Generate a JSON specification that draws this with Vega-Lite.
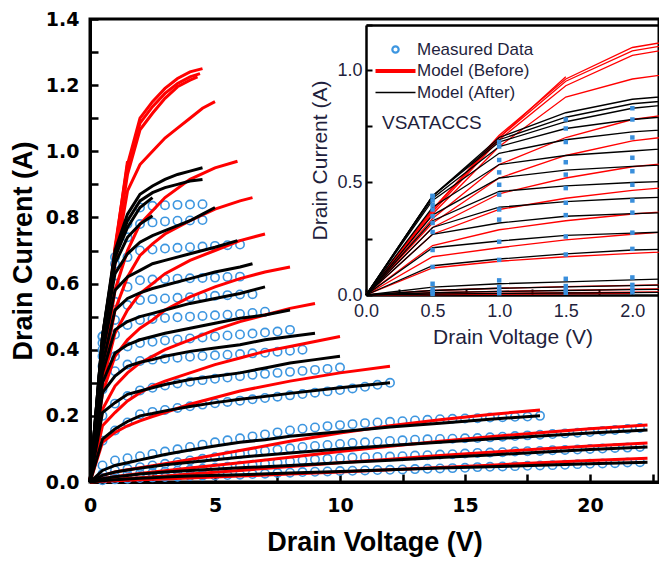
{
"$schema":"https://vega.github.io/schema/vega-lite/v6.json",
"width":569,"height":463,
"autosize":{"type":"none"},
"padding":{"left":90,"top":19,"right":0,"bottom":80},
"background":"white",
"title":{"text":"VSATACCS","anchor":"start","frame":"group","orient":"top","offset":0,"dx":292,"dy":123,"baseline":"top","font":"Liberation Sans","fontSize":19,"fontWeight":"normal","color":"#1f1f3d"},
"config":{"view":{"stroke":"black","strokeWidth":3},"font":"Liberation Sans"},
"datasets":{
"lines":[
{"s":"B","c":1,"v":0,"i":0},{"s":"B","c":1,"v":0.5,"i":0.38},{"s":"B","c":1,"v":1,"i":0.71},{"s":"B","c":1,"v":1.5,"i":0.96},{"s":"B","c":1,"v":2,"i":1.1},{"s":"B","c":1,"v":2.5,"i":1.15},{"s":"B","c":1,"v":3,"i":1.19},{"s":"B","c":1,"v":3.5,"i":1.22},{"s":"B","c":1,"v":4,"i":1.24},{"s":"B","c":1,"v":4.5,"i":1.25},
{"s":"B","c":2,"v":0,"i":0},{"s":"B","c":2,"v":0.5,"i":0.38},{"s":"B","c":2,"v":1,"i":0.7},{"s":"B","c":2,"v":1.5,"i":0.95},{"s":"B","c":2,"v":2,"i":1.085},{"s":"B","c":2,"v":2.5,"i":1.135},{"s":"B","c":2,"v":3,"i":1.175},{"s":"B","c":2,"v":3.5,"i":1.205},{"s":"B","c":2,"v":4,"i":1.225},{"s":"B","c":2,"v":4.4,"i":1.235},
{"s":"B","c":3,"v":0,"i":0},{"s":"B","c":3,"v":0.5,"i":0.37},{"s":"B","c":3,"v":1,"i":0.69},{"s":"B","c":3,"v":1.5,"i":0.93},{"s":"B","c":3,"v":2,"i":1.065},{"s":"B","c":3,"v":2.5,"i":1.115},{"s":"B","c":3,"v":3,"i":1.16},{"s":"B","c":3,"v":3.5,"i":1.195},{"s":"B","c":3,"v":4,"i":1.215},{"s":"B","c":3,"v":4.3,"i":1.225},
{"s":"B","c":4,"v":0,"i":0},{"s":"B","c":4,"v":0.5,"i":0.38},{"s":"B","c":4,"v":1,"i":0.7},{"s":"B","c":4,"v":1.5,"i":0.97},
{"s":"B","c":5,"v":0,"i":0},{"s":"B","c":5,"v":0.5,"i":0.36},{"s":"B","c":5,"v":1,"i":0.66},{"s":"B","c":5,"v":1.5,"i":0.88},{"s":"B","c":5,"v":2,"i":0.96},{"s":"B","c":5,"v":2.5,"i":1.0},{"s":"B","c":5,"v":3,"i":1.04},{"s":"B","c":5,"v":3.5,"i":1.07},{"s":"B","c":5,"v":4,"i":1.1},{"s":"B","c":5,"v":4.5,"i":1.13},{"s":"B","c":5,"v":5,"i":1.15},
{"s":"B","c":6,"v":0,"i":0},{"s":"B","c":6,"v":0.5,"i":0.34},{"s":"B","c":6,"v":1,"i":0.58},{"s":"B","c":6,"v":1.5,"i":0.7},{"s":"B","c":6,"v":2,"i":0.78},{"s":"B","c":6,"v":2.5,"i":0.82},{"s":"B","c":6,"v":3,"i":0.86},{"s":"B","c":6,"v":4,"i":0.915},{"s":"B","c":6,"v":5,"i":0.95},{"s":"B","c":6,"v":5.9,"i":0.97},
{"s":"B","c":7,"v":0,"i":0},{"s":"B","c":7,"v":0.5,"i":0.32},{"s":"B","c":7,"v":1,"i":0.52},{"s":"B","c":7,"v":1.5,"i":0.62},{"s":"B","c":7,"v":2,"i":0.685},{"s":"B","c":7,"v":2.5,"i":0.72},{"s":"B","c":7,"v":3,"i":0.75},{"s":"B","c":7,"v":4,"i":0.79},{"s":"B","c":7,"v":5,"i":0.825},{"s":"B","c":7,"v":6,"i":0.85},{"s":"B","c":7,"v":6.5,"i":0.86},
{"s":"B","c":8,"v":0,"i":0},{"s":"B","c":8,"v":0.5,"i":0.3},{"s":"B","c":8,"v":1,"i":0.45},{"s":"B","c":8,"v":1.5,"i":0.52},{"s":"B","c":8,"v":2,"i":0.57},{"s":"B","c":8,"v":2.5,"i":0.6},{"s":"B","c":8,"v":3,"i":0.63},{"s":"B","c":8,"v":4,"i":0.67},{"s":"B","c":8,"v":5,"i":0.7},{"s":"B","c":8,"v":6,"i":0.73},{"s":"B","c":8,"v":7,"i":0.75},
{"s":"B","c":9,"v":0,"i":0},{"s":"B","c":9,"v":0.5,"i":0.27},{"s":"B","c":9,"v":1,"i":0.38},{"s":"B","c":9,"v":1.5,"i":0.43},{"s":"B","c":9,"v":2,"i":0.465},{"s":"B","c":9,"v":2.5,"i":0.49},{"s":"B","c":9,"v":3,"i":0.52},{"s":"B","c":9,"v":4,"i":0.56},{"s":"B","c":9,"v":5,"i":0.59},{"s":"B","c":9,"v":6,"i":0.615},{"s":"B","c":9,"v":7,"i":0.635},{"s":"B","c":9,"v":8,"i":0.65},
{"s":"B","c":10,"v":0,"i":0},{"s":"B","c":10,"v":0.5,"i":0.22},{"s":"B","c":10,"v":1,"i":0.29},{"s":"B","c":10,"v":1.5,"i":0.33},{"s":"B","c":10,"v":2,"i":0.36},{"s":"B","c":10,"v":2.5,"i":0.38},{"s":"B","c":10,"v":3,"i":0.4},{"s":"B","c":10,"v":4,"i":0.43},{"s":"B","c":10,"v":5,"i":0.46},{"s":"B","c":10,"v":6,"i":0.485},{"s":"B","c":10,"v":7,"i":0.505},{"s":"B","c":10,"v":8,"i":0.525},{"s":"B","c":10,"v":9,"i":0.54},
{"s":"B","c":11,"v":0,"i":0},{"s":"B","c":11,"v":0.5,"i":0.17},{"s":"B","c":11,"v":1,"i":0.21},{"s":"B","c":11,"v":1.5,"i":0.245},{"s":"B","c":11,"v":2,"i":0.27},{"s":"B","c":11,"v":2.5,"i":0.29},{"s":"B","c":11,"v":3,"i":0.305},{"s":"B","c":11,"v":4,"i":0.33},{"s":"B","c":11,"v":5,"i":0.355},{"s":"B","c":11,"v":6,"i":0.375},{"s":"B","c":11,"v":7,"i":0.395},{"s":"B","c":11,"v":8,"i":0.41},{"s":"B","c":11,"v":9,"i":0.425},{"s":"B","c":11,"v":10,"i":0.44},
{"s":"B","c":12,"v":0,"i":0},{"s":"B","c":12,"v":0.5,"i":0.12},{"s":"B","c":12,"v":1,"i":0.15},{"s":"B","c":12,"v":1.5,"i":0.17},{"s":"B","c":12,"v":2,"i":0.185},{"s":"B","c":12,"v":2.5,"i":0.198},{"s":"B","c":12,"v":3,"i":0.21},{"s":"B","c":12,"v":4,"i":0.235},{"s":"B","c":12,"v":6,"i":0.275},{"s":"B","c":12,"v":8,"i":0.305},{"s":"B","c":12,"v":10,"i":0.33},{"s":"B","c":12,"v":12,"i":0.35},
{"s":"B","c":13,"v":0,"i":0},{"s":"B","c":13,"v":0.5,"i":0.02},{"s":"B","c":13,"v":1,"i":0.03},{"s":"B","c":13,"v":1.5,"i":0.037},{"s":"B","c":13,"v":2,"i":0.043},{"s":"B","c":13,"v":2.5,"i":0.049},{"s":"B","c":13,"v":3,"i":0.055},{"s":"B","c":13,"v":4,"i":0.068},{"s":"B","c":13,"v":6,"i":0.095},{"s":"B","c":13,"v":8,"i":0.123},{"s":"B","c":13,"v":10,"i":0.148},{"s":"B","c":13,"v":12,"i":0.17},{"s":"B","c":13,"v":14,"i":0.188},{"s":"B","c":13,"v":16,"i":0.204},{"s":"B","c":13,"v":18,"i":0.218},
{"s":"B","c":14,"v":0,"i":0},{"s":"B","c":14,"v":0.5,"i":0.01},{"s":"B","c":14,"v":1,"i":0.016},{"s":"B","c":14,"v":1.5,"i":0.021},{"s":"B","c":14,"v":2,"i":0.026},{"s":"B","c":14,"v":2.5,"i":0.03},{"s":"B","c":14,"v":3,"i":0.034},{"s":"B","c":14,"v":4,"i":0.042},{"s":"B","c":14,"v":6,"i":0.058},{"s":"B","c":14,"v":8,"i":0.075},{"s":"B","c":14,"v":10,"i":0.092},{"s":"B","c":14,"v":12,"i":0.108},{"s":"B","c":14,"v":14,"i":0.123},{"s":"B","c":14,"v":16,"i":0.137},{"s":"B","c":14,"v":18,"i":0.149},{"s":"B","c":14,"v":20,"i":0.161},{"s":"B","c":14,"v":22.3,"i":0.172},
{"s":"B","c":15,"v":0,"i":0},{"s":"B","c":15,"v":0.5,"i":0.005},{"s":"B","c":15,"v":1,"i":0.008},{"s":"B","c":15,"v":2,"i":0.013},{"s":"B","c":15,"v":3,"i":0.018},{"s":"B","c":15,"v":4,"i":0.024},{"s":"B","c":15,"v":6,"i":0.035},{"s":"B","c":15,"v":8,"i":0.047},{"s":"B","c":15,"v":10,"i":0.058},{"s":"B","c":15,"v":12,"i":0.069},{"s":"B","c":15,"v":14,"i":0.08},{"s":"B","c":15,"v":16,"i":0.09},{"s":"B","c":15,"v":18,"i":0.1},{"s":"B","c":15,"v":20,"i":0.109},{"s":"B","c":15,"v":22.3,"i":0.118},
{"s":"B","c":16,"v":0,"i":0},{"s":"B","c":16,"v":0.5,"i":0.002},{"s":"B","c":16,"v":1,"i":0.004},{"s":"B","c":16,"v":2,"i":0.007},{"s":"B","c":16,"v":4,"i":0.012},{"s":"B","c":16,"v":6,"i":0.018},{"s":"B","c":16,"v":8,"i":0.024},{"s":"B","c":16,"v":10,"i":0.03},{"s":"B","c":16,"v":12,"i":0.037},{"s":"B","c":16,"v":14,"i":0.044},{"s":"B","c":16,"v":16,"i":0.051},{"s":"B","c":16,"v":18,"i":0.058},{"s":"B","c":16,"v":20,"i":0.065},{"s":"B","c":16,"v":22.3,"i":0.072},
{"s":"A","c":1,"v":0,"i":0},{"s":"A","c":1,"v":0.5,"i":0.44},{"s":"A","c":1,"v":1,"i":0.7},{"s":"A","c":1,"v":1.5,"i":0.81},{"s":"A","c":1,"v":2,"i":0.87},{"s":"A","c":1,"v":2.5,"i":0.895},{"s":"A","c":1,"v":3,"i":0.915},{"s":"A","c":1,"v":3.5,"i":0.93},{"s":"A","c":1,"v":4,"i":0.94},{"s":"A","c":1,"v":4.5,"i":0.95},
{"s":"A","c":2,"v":0,"i":0},{"s":"A","c":2,"v":0.5,"i":0.44},{"s":"A","c":2,"v":1,"i":0.69},{"s":"A","c":2,"v":1.5,"i":0.79},{"s":"A","c":2,"v":2,"i":0.85},{"s":"A","c":2,"v":2.5,"i":0.875},{"s":"A","c":2,"v":3,"i":0.89},{"s":"A","c":2,"v":3.5,"i":0.9},{"s":"A","c":2,"v":4,"i":0.91},{"s":"A","c":2,"v":4.5,"i":0.915},
{"s":"A","c":3,"v":0,"i":0},{"s":"A","c":3,"v":0.5,"i":0.44},{"s":"A","c":3,"v":1,"i":0.68},{"s":"A","c":3,"v":1.5,"i":0.77},{"s":"A","c":3,"v":2,"i":0.83},{"s":"A","c":3,"v":2.5,"i":0.86},
{"s":"A","c":4,"v":0,"i":0},{"s":"A","c":4,"v":0.5,"i":0.43},{"s":"A","c":4,"v":1,"i":0.66},{"s":"A","c":4,"v":1.5,"i":0.74},{"s":"A","c":4,"v":2,"i":0.78},{"s":"A","c":4,"v":2.5,"i":0.805},
{"s":"A","c":5,"v":0,"i":0},{"s":"A","c":5,"v":0.5,"i":0.42},{"s":"A","c":5,"v":1,"i":0.63},{"s":"A","c":5,"v":1.5,"i":0.69},{"s":"A","c":5,"v":2,"i":0.725},{"s":"A","c":5,"v":2.5,"i":0.745},{"s":"A","c":5,"v":3,"i":0.76},{"s":"A","c":5,"v":3.5,"i":0.775},{"s":"A","c":5,"v":4,"i":0.79},{"s":"A","c":5,"v":4.5,"i":0.81},{"s":"A","c":5,"v":5,"i":0.83},
{"s":"A","c":6,"v":0,"i":0},{"s":"A","c":6,"v":0.5,"i":0.39},{"s":"A","c":6,"v":1,"i":0.58},{"s":"A","c":6,"v":1.5,"i":0.62},{"s":"A","c":6,"v":2,"i":0.64},{"s":"A","c":6,"v":2.5,"i":0.66},{"s":"A","c":6,"v":3,"i":0.67},{"s":"A","c":6,"v":4,"i":0.69},{"s":"A","c":6,"v":5,"i":0.71},{"s":"A","c":6,"v":5.9,"i":0.73},
{"s":"A","c":7,"v":0,"i":0},{"s":"A","c":7,"v":0.5,"i":0.355},{"s":"A","c":7,"v":1,"i":0.52},{"s":"A","c":7,"v":1.5,"i":0.555},{"s":"A","c":7,"v":2,"i":0.572},{"s":"A","c":7,"v":2.5,"i":0.585},{"s":"A","c":7,"v":3,"i":0.595},{"s":"A","c":7,"v":4,"i":0.615},{"s":"A","c":7,"v":5,"i":0.635},{"s":"A","c":7,"v":6,"i":0.65},{"s":"A","c":7,"v":6.5,"i":0.66},
{"s":"A","c":8,"v":0,"i":0},{"s":"A","c":8,"v":0.5,"i":0.33},{"s":"A","c":8,"v":1,"i":0.46},{"s":"A","c":8,"v":1.5,"i":0.485},{"s":"A","c":8,"v":2,"i":0.5},{"s":"A","c":8,"v":2.5,"i":0.51},{"s":"A","c":8,"v":3,"i":0.52},{"s":"A","c":8,"v":4,"i":0.54},{"s":"A","c":8,"v":5,"i":0.555},{"s":"A","c":8,"v":6,"i":0.57},{"s":"A","c":8,"v":7,"i":0.59},
{"s":"A","c":9,"v":0,"i":0},{"s":"A","c":9,"v":0.5,"i":0.3},{"s":"A","c":9,"v":1,"i":0.39},{"s":"A","c":9,"v":1.5,"i":0.415},{"s":"A","c":9,"v":2,"i":0.43},{"s":"A","c":9,"v":2.5,"i":0.44},{"s":"A","c":9,"v":3,"i":0.45},{"s":"A","c":9,"v":4,"i":0.465},{"s":"A","c":9,"v":5,"i":0.48},{"s":"A","c":9,"v":6,"i":0.495},{"s":"A","c":9,"v":7,"i":0.505},{"s":"A","c":9,"v":8,"i":0.52},
{"s":"A","c":10,"v":0,"i":0},{"s":"A","c":10,"v":0.5,"i":0.27},{"s":"A","c":10,"v":1,"i":0.32},{"s":"A","c":10,"v":1.5,"i":0.35},{"s":"A","c":10,"v":2,"i":0.362},{"s":"A","c":10,"v":2.5,"i":0.37},{"s":"A","c":10,"v":3,"i":0.38},{"s":"A","c":10,"v":4,"i":0.395},{"s":"A","c":10,"v":5,"i":0.405},{"s":"A","c":10,"v":6,"i":0.415},{"s":"A","c":10,"v":7,"i":0.43},{"s":"A","c":10,"v":8,"i":0.44},{"s":"A","c":10,"v":9,"i":0.45},
{"s":"A","c":11,"v":0,"i":0},{"s":"A","c":11,"v":0.5,"i":0.21},{"s":"A","c":11,"v":1,"i":0.24},{"s":"A","c":11,"v":1.5,"i":0.265},{"s":"A","c":11,"v":2,"i":0.275},{"s":"A","c":11,"v":2.5,"i":0.285},{"s":"A","c":11,"v":3,"i":0.295},{"s":"A","c":11,"v":4,"i":0.31},{"s":"A","c":11,"v":5,"i":0.32},{"s":"A","c":11,"v":6,"i":0.33},{"s":"A","c":11,"v":7,"i":0.345},{"s":"A","c":11,"v":8,"i":0.36},{"s":"A","c":11,"v":9,"i":0.37},{"s":"A","c":11,"v":10,"i":0.38},
{"s":"A","c":12,"v":0,"i":0},{"s":"A","c":12,"v":0.5,"i":0.13},{"s":"A","c":12,"v":1,"i":0.16},{"s":"A","c":12,"v":1.5,"i":0.183},{"s":"A","c":12,"v":2,"i":0.2},{"s":"A","c":12,"v":2.5,"i":0.207},{"s":"A","c":12,"v":3,"i":0.215},{"s":"A","c":12,"v":4,"i":0.228},{"s":"A","c":12,"v":5,"i":0.24},{"s":"A","c":12,"v":6,"i":0.25},{"s":"A","c":12,"v":8,"i":0.268},{"s":"A","c":12,"v":10,"i":0.285},{"s":"A","c":12,"v":12,"i":0.3},
{"s":"A","c":13,"v":0,"i":0},{"s":"A","c":13,"v":0.5,"i":0.035},{"s":"A","c":13,"v":1,"i":0.05},{"s":"A","c":13,"v":1.5,"i":0.058},{"s":"A","c":13,"v":2,"i":0.067},{"s":"A","c":13,"v":2.5,"i":0.075},{"s":"A","c":13,"v":3,"i":0.083},{"s":"A","c":13,"v":4,"i":0.097},{"s":"A","c":13,"v":5,"i":0.109},{"s":"A","c":13,"v":6,"i":0.12},{"s":"A","c":13,"v":7,"i":0.128},{"s":"A","c":13,"v":8,"i":0.138},{"s":"A","c":13,"v":10,"i":0.152},{"s":"A","c":13,"v":12,"i":0.166},{"s":"A","c":13,"v":14,"i":0.178},{"s":"A","c":13,"v":16,"i":0.19},{"s":"A","c":13,"v":18,"i":0.2},
{"s":"A","c":14,"v":0,"i":0},{"s":"A","c":14,"v":0.5,"i":0.02},{"s":"A","c":14,"v":1,"i":0.03},{"s":"A","c":14,"v":1.5,"i":0.036},{"s":"A","c":14,"v":2,"i":0.042},{"s":"A","c":14,"v":2.5,"i":0.047},{"s":"A","c":14,"v":3,"i":0.052},{"s":"A","c":14,"v":4,"i":0.06},{"s":"A","c":14,"v":6,"i":0.075},{"s":"A","c":14,"v":8,"i":0.088},{"s":"A","c":14,"v":10,"i":0.1},{"s":"A","c":14,"v":12,"i":0.11},{"s":"A","c":14,"v":14,"i":0.12},{"s":"A","c":14,"v":16,"i":0.13},{"s":"A","c":14,"v":18,"i":0.139},{"s":"A","c":14,"v":20,"i":0.148},{"s":"A","c":14,"v":22.3,"i":0.157},
{"s":"A","c":15,"v":0,"i":0},{"s":"A","c":15,"v":0.5,"i":0.01},{"s":"A","c":15,"v":1,"i":0.016},{"s":"A","c":15,"v":1.5,"i":0.02},{"s":"A","c":15,"v":2,"i":0.024},{"s":"A","c":15,"v":2.5,"i":0.027},{"s":"A","c":15,"v":3,"i":0.03},{"s":"A","c":15,"v":4,"i":0.035},{"s":"A","c":15,"v":6,"i":0.043},{"s":"A","c":15,"v":8,"i":0.05},{"s":"A","c":15,"v":10,"i":0.058},{"s":"A","c":15,"v":12,"i":0.066},{"s":"A","c":15,"v":14,"i":0.074},{"s":"A","c":15,"v":16,"i":0.082},{"s":"A","c":15,"v":18,"i":0.09},{"s":"A","c":15,"v":20,"i":0.098},{"s":"A","c":15,"v":22.3,"i":0.106},
{"s":"A","c":16,"v":0,"i":0},{"s":"A","c":16,"v":0.5,"i":0.004},{"s":"A","c":16,"v":1,"i":0.007},{"s":"A","c":16,"v":1.5,"i":0.009},{"s":"A","c":16,"v":2,"i":0.011},{"s":"A","c":16,"v":2.5,"i":0.013},{"s":"A","c":16,"v":3,"i":0.015},{"s":"A","c":16,"v":4,"i":0.018},{"s":"A","c":16,"v":6,"i":0.022},{"s":"A","c":16,"v":8,"i":0.027},{"s":"A","c":16,"v":10,"i":0.032},{"s":"A","c":16,"v":12,"i":0.037},{"s":"A","c":16,"v":14,"i":0.042},{"s":"A","c":16,"v":16,"i":0.046},{"s":"A","c":16,"v":18,"i":0.051},{"s":"A","c":16,"v":20,"i":0.055},{"s":"A","c":16,"v":22.3,"i":0.06}
],
"meas":[
{"s":"M","c":1,"v":0.5,"i":0.44},{"s":"M","c":1,"v":1,"i":0.68},{"s":"M","c":1,"v":1.5,"i":0.78},{"s":"M","c":1,"v":2,"i":0.83},{"s":"M","c":1,"v":2.5,"i":0.835},{"s":"M","c":1,"v":3,"i":0.837},{"s":"M","c":1,"v":3.5,"i":0.838},{"s":"M","c":1,"v":4,"i":0.839},{"s":"M","c":1,"v":4.5,"i":0.84},
{"s":"M","c":2,"v":0.5,"i":0.44},{"s":"M","c":2,"v":1,"i":0.66},{"s":"M","c":2,"v":1.5,"i":0.74},{"s":"M","c":2,"v":2,"i":0.78},{"s":"M","c":2,"v":2.5,"i":0.785},{"s":"M","c":2,"v":3,"i":0.788},{"s":"M","c":2,"v":3.5,"i":0.79},{"s":"M","c":2,"v":4,"i":0.791},{"s":"M","c":2,"v":4.5,"i":0.792},
{"s":"M","c":3,"v":0.5,"i":0.42},{"s":"M","c":3,"v":1,"i":0.6},{"s":"M","c":3,"v":1.5,"i":0.68},{"s":"M","c":3,"v":2,"i":0.7},{"s":"M","c":3,"v":2.5,"i":0.703},{"s":"M","c":3,"v":3,"i":0.706},{"s":"M","c":3,"v":3.5,"i":0.708},{"s":"M","c":3,"v":4,"i":0.71},{"s":"M","c":3,"v":4.5,"i":0.712},{"s":"M","c":3,"v":5,"i":0.714},{"s":"M","c":3,"v":5.5,"i":0.716},{"s":"M","c":3,"v":6,"i":0.718},
{"s":"M","c":4,"v":0.5,"i":0.4},{"s":"M","c":4,"v":1,"i":0.545},{"s":"M","c":4,"v":1.5,"i":0.59},{"s":"M","c":4,"v":2,"i":0.61},{"s":"M","c":4,"v":2.5,"i":0.612},{"s":"M","c":4,"v":3,"i":0.614},{"s":"M","c":4,"v":3.5,"i":0.615},{"s":"M","c":4,"v":4,"i":0.616},{"s":"M","c":4,"v":4.5,"i":0.617},{"s":"M","c":4,"v":5,"i":0.618},{"s":"M","c":4,"v":5.5,"i":0.62},{"s":"M","c":4,"v":6,"i":0.621},
{"s":"M","c":5,"v":0.5,"i":0.38},{"s":"M","c":5,"v":1,"i":0.49},{"s":"M","c":5,"v":1.5,"i":0.535},{"s":"M","c":5,"v":2,"i":0.55},{"s":"M","c":5,"v":2.5,"i":0.553},{"s":"M","c":5,"v":3,"i":0.555},{"s":"M","c":5,"v":3.5,"i":0.557},{"s":"M","c":5,"v":4,"i":0.559},{"s":"M","c":5,"v":4.5,"i":0.561},{"s":"M","c":5,"v":5,"i":0.563},{"s":"M","c":5,"v":5.5,"i":0.565},{"s":"M","c":5,"v":6,"i":0.567},{"s":"M","c":5,"v":6.5,"i":0.568},
{"s":"M","c":6,"v":0.5,"i":0.35},{"s":"M","c":6,"v":1,"i":0.446},{"s":"M","c":6,"v":1.5,"i":0.475},{"s":"M","c":6,"v":2,"i":0.49},{"s":"M","c":6,"v":2.5,"i":0.493},{"s":"M","c":6,"v":3,"i":0.496},{"s":"M","c":6,"v":3.5,"i":0.498},{"s":"M","c":6,"v":4,"i":0.5},{"s":"M","c":6,"v":4.5,"i":0.502},{"s":"M","c":6,"v":5,"i":0.504},{"s":"M","c":6,"v":5.5,"i":0.506},{"s":"M","c":6,"v":6,"i":0.508},{"s":"M","c":6,"v":6.5,"i":0.511},{"s":"M","c":6,"v":7,"i":0.515},
{"s":"M","c":7,"v":0.5,"i":0.32},{"s":"M","c":7,"v":1,"i":0.38},{"s":"M","c":7,"v":1.5,"i":0.41},{"s":"M","c":7,"v":2,"i":0.42},{"s":"M","c":7,"v":2.5,"i":0.424},{"s":"M","c":7,"v":3,"i":0.428},{"s":"M","c":7,"v":3.5,"i":0.431},{"s":"M","c":7,"v":4,"i":0.434},{"s":"M","c":7,"v":4.5,"i":0.437},{"s":"M","c":7,"v":5,"i":0.44},{"s":"M","c":7,"v":5.5,"i":0.443},{"s":"M","c":7,"v":6,"i":0.446},{"s":"M","c":7,"v":6.5,"i":0.449},{"s":"M","c":7,"v":7,"i":0.452},{"s":"M","c":7,"v":7.5,"i":0.455},{"s":"M","c":7,"v":8,"i":0.46},
{"s":"M","c":8,"v":0.5,"i":0.28},{"s":"M","c":8,"v":1,"i":0.335},{"s":"M","c":8,"v":1.5,"i":0.355},{"s":"M","c":8,"v":2,"i":0.366},{"s":"M","c":8,"v":2.5,"i":0.37},{"s":"M","c":8,"v":3,"i":0.373},{"s":"M","c":8,"v":3.5,"i":0.376},{"s":"M","c":8,"v":4,"i":0.379},{"s":"M","c":8,"v":4.5,"i":0.381},{"s":"M","c":8,"v":5,"i":0.383},{"s":"M","c":8,"v":5.5,"i":0.385},{"s":"M","c":8,"v":6,"i":0.387},{"s":"M","c":8,"v":6.5,"i":0.389},{"s":"M","c":8,"v":7,"i":0.391},{"s":"M","c":8,"v":7.5,"i":0.394},{"s":"M","c":8,"v":8,"i":0.397},{"s":"M","c":8,"v":8.5,"i":0.4},
{"s":"M","c":9,"v":0.5,"i":0.2},{"s":"M","c":9,"v":1,"i":0.237},{"s":"M","c":9,"v":1.5,"i":0.26},{"s":"M","c":9,"v":2,"i":0.277},{"s":"M","c":9,"v":2.5,"i":0.285},{"s":"M","c":9,"v":3,"i":0.292},{"s":"M","c":9,"v":3.5,"i":0.298},{"s":"M","c":9,"v":4,"i":0.303},{"s":"M","c":9,"v":4.5,"i":0.308},{"s":"M","c":9,"v":5,"i":0.312},{"s":"M","c":9,"v":5.5,"i":0.316},{"s":"M","c":9,"v":6,"i":0.32},{"s":"M","c":9,"v":6.5,"i":0.324},{"s":"M","c":9,"v":7,"i":0.327},{"s":"M","c":9,"v":7.5,"i":0.33},{"s":"M","c":9,"v":8,"i":0.333},{"s":"M","c":9,"v":8.5,"i":0.336},{"s":"M","c":9,"v":9,"i":0.339},{"s":"M","c":9,"v":9.5,"i":0.342},{"s":"M","c":9,"v":10,"i":0.346},
{"s":"M","c":10,"v":0.5,"i":0.125},{"s":"M","c":10,"v":1,"i":0.156},{"s":"M","c":10,"v":1.5,"i":0.18},{"s":"M","c":10,"v":2,"i":0.205},{"s":"M","c":10,"v":2.5,"i":0.212},{"s":"M","c":10,"v":3,"i":0.218},{"s":"M","c":10,"v":3.5,"i":0.224},{"s":"M","c":10,"v":4,"i":0.229},{"s":"M","c":10,"v":4.5,"i":0.234},{"s":"M","c":10,"v":5,"i":0.238},{"s":"M","c":10,"v":5.5,"i":0.242},{"s":"M","c":10,"v":6,"i":0.246},{"s":"M","c":10,"v":6.5,"i":0.25},{"s":"M","c":10,"v":7,"i":0.254},{"s":"M","c":10,"v":7.5,"i":0.258},{"s":"M","c":10,"v":8,"i":0.262},{"s":"M","c":10,"v":8.5,"i":0.266},{"s":"M","c":10,"v":9,"i":0.27},{"s":"M","c":10,"v":9.5,"i":0.274},{"s":"M","c":10,"v":10,"i":0.278},{"s":"M","c":10,"v":10.5,"i":0.283},{"s":"M","c":10,"v":11,"i":0.288},{"s":"M","c":10,"v":11.5,"i":0.294},{"s":"M","c":10,"v":12,"i":0.3},
{"s":"M","c":11,"v":0.5,"i":0.05},{"s":"M","c":11,"v":1,"i":0.065},{"s":"M","c":11,"v":1.5,"i":0.072},{"s":"M","c":11,"v":2,"i":0.078},{"s":"M","c":11,"v":2.5,"i":0.085},{"s":"M","c":11,"v":3,"i":0.092},{"s":"M","c":11,"v":3.5,"i":0.099},{"s":"M","c":11,"v":4,"i":0.106},{"s":"M","c":11,"v":4.5,"i":0.113},{"s":"M","c":11,"v":5,"i":0.12},{"s":"M","c":11,"v":5.5,"i":0.126},{"s":"M","c":11,"v":6,"i":0.132},{"s":"M","c":11,"v":6.5,"i":0.138},{"s":"M","c":11,"v":7,"i":0.144},{"s":"M","c":11,"v":7.5,"i":0.15},{"s":"M","c":11,"v":8,"i":0.156},{"s":"M","c":11,"v":8.5,"i":0.161},{"s":"M","c":11,"v":9,"i":0.165},{"s":"M","c":11,"v":9.5,"i":0.169},{"s":"M","c":11,"v":10,"i":0.172},{"s":"M","c":11,"v":10.5,"i":0.175},{"s":"M","c":11,"v":11,"i":0.178},{"s":"M","c":11,"v":11.5,"i":0.18},{"s":"M","c":11,"v":12,"i":0.182},{"s":"M","c":11,"v":12.5,"i":0.184},{"s":"M","c":11,"v":13,"i":0.186},{"s":"M","c":11,"v":13.5,"i":0.188},{"s":"M","c":11,"v":14,"i":0.19},{"s":"M","c":11,"v":14.5,"i":0.191},{"s":"M","c":11,"v":15,"i":0.192},{"s":"M","c":11,"v":15.5,"i":0.193},{"s":"M","c":11,"v":16,"i":0.195},{"s":"M","c":11,"v":16.5,"i":0.196},{"s":"M","c":11,"v":17,"i":0.197},{"s":"M","c":11,"v":17.5,"i":0.198},{"s":"M","c":11,"v":18,"i":0.2},
{"s":"M","c":12,"v":0.5,"i":0.025},{"s":"M","c":12,"v":1,"i":0.035},{"s":"M","c":12,"v":1.5,"i":0.04},{"s":"M","c":12,"v":2,"i":0.045},{"s":"M","c":12,"v":2.5,"i":0.05},{"s":"M","c":12,"v":3,"i":0.055},{"s":"M","c":12,"v":3.5,"i":0.06},{"s":"M","c":12,"v":4,"i":0.065},{"s":"M","c":12,"v":4.5,"i":0.07},{"s":"M","c":12,"v":5,"i":0.075},{"s":"M","c":12,"v":5.5,"i":0.08},{"s":"M","c":12,"v":6,"i":0.085},{"s":"M","c":12,"v":6.5,"i":0.09},{"s":"M","c":12,"v":7,"i":0.094},{"s":"M","c":12,"v":7.5,"i":0.098},{"s":"M","c":12,"v":8,"i":0.102},{"s":"M","c":12,"v":8.5,"i":0.106},{"s":"M","c":12,"v":9,"i":0.109},{"s":"M","c":12,"v":9.5,"i":0.112},{"s":"M","c":12,"v":10,"i":0.115},{"s":"M","c":12,"v":10.5,"i":0.118},{"s":"M","c":12,"v":11,"i":0.12},{"s":"M","c":12,"v":11.5,"i":0.122},{"s":"M","c":12,"v":12,"i":0.124},{"s":"M","c":12,"v":12.5,"i":0.126},{"s":"M","c":12,"v":13,"i":0.128},{"s":"M","c":12,"v":13.5,"i":0.129},{"s":"M","c":12,"v":14,"i":0.13},{"s":"M","c":12,"v":14.5,"i":0.131},{"s":"M","c":12,"v":15,"i":0.132},{"s":"M","c":12,"v":15.5,"i":0.133},{"s":"M","c":12,"v":16,"i":0.135},{"s":"M","c":12,"v":16.5,"i":0.137},{"s":"M","c":12,"v":17,"i":0.139},{"s":"M","c":12,"v":17.5,"i":0.141},{"s":"M","c":12,"v":18,"i":0.143},{"s":"M","c":12,"v":18.5,"i":0.145},{"s":"M","c":12,"v":19,"i":0.147},{"s":"M","c":12,"v":19.5,"i":0.149},{"s":"M","c":12,"v":20,"i":0.151},{"s":"M","c":12,"v":20.5,"i":0.154},{"s":"M","c":12,"v":21,"i":0.157},{"s":"M","c":12,"v":21.5,"i":0.16},{"s":"M","c":12,"v":22,"i":0.163},
{"s":"M","c":13,"v":0.5,"i":0.012},{"s":"M","c":13,"v":1,"i":0.018},{"s":"M","c":13,"v":1.5,"i":0.022},{"s":"M","c":13,"v":2,"i":0.025},{"s":"M","c":13,"v":2.5,"i":0.028},{"s":"M","c":13,"v":3,"i":0.031},{"s":"M","c":13,"v":3.5,"i":0.034},{"s":"M","c":13,"v":4,"i":0.037},{"s":"M","c":13,"v":4.5,"i":0.04},{"s":"M","c":13,"v":5,"i":0.043},{"s":"M","c":13,"v":5.5,"i":0.046},{"s":"M","c":13,"v":6,"i":0.049},{"s":"M","c":13,"v":6.5,"i":0.052},{"s":"M","c":13,"v":7,"i":0.055},{"s":"M","c":13,"v":7.5,"i":0.058},{"s":"M","c":13,"v":8,"i":0.062},{"s":"M","c":13,"v":8.5,"i":0.066},{"s":"M","c":13,"v":9,"i":0.068},{"s":"M","c":13,"v":9.5,"i":0.07},{"s":"M","c":13,"v":10,"i":0.072},{"s":"M","c":13,"v":10.5,"i":0.074},{"s":"M","c":13,"v":11,"i":0.075},{"s":"M","c":13,"v":11.5,"i":0.076},{"s":"M","c":13,"v":12,"i":0.077},{"s":"M","c":13,"v":12.5,"i":0.078},{"s":"M","c":13,"v":13,"i":0.08},{"s":"M","c":13,"v":13.5,"i":0.081},{"s":"M","c":13,"v":14,"i":0.083},{"s":"M","c":13,"v":14.5,"i":0.084},{"s":"M","c":13,"v":15,"i":0.086},{"s":"M","c":13,"v":15.5,"i":0.088},{"s":"M","c":13,"v":16,"i":0.089},{"s":"M","c":13,"v":16.5,"i":0.09},{"s":"M","c":13,"v":17,"i":0.092},{"s":"M","c":13,"v":17.5,"i":0.093},{"s":"M","c":13,"v":18,"i":0.094},{"s":"M","c":13,"v":18.5,"i":0.096},{"s":"M","c":13,"v":19,"i":0.097},{"s":"M","c":13,"v":19.5,"i":0.098},{"s":"M","c":13,"v":20,"i":0.1},{"s":"M","c":13,"v":20.5,"i":0.101},{"s":"M","c":13,"v":21,"i":0.103},{"s":"M","c":13,"v":21.5,"i":0.104},{"s":"M","c":13,"v":22,"i":0.106},
{"s":"M","c":14,"v":0.5,"i":0.005},{"s":"M","c":14,"v":1,"i":0.008},{"s":"M","c":14,"v":1.5,"i":0.01},{"s":"M","c":14,"v":2,"i":0.012},{"s":"M","c":14,"v":2.5,"i":0.014},{"s":"M","c":14,"v":3,"i":0.015},{"s":"M","c":14,"v":3.5,"i":0.016},{"s":"M","c":14,"v":4,"i":0.018},{"s":"M","c":14,"v":4.5,"i":0.019},{"s":"M","c":14,"v":5,"i":0.02},{"s":"M","c":14,"v":5.5,"i":0.021},{"s":"M","c":14,"v":6,"i":0.022},{"s":"M","c":14,"v":6.5,"i":0.024},{"s":"M","c":14,"v":7,"i":0.025},{"s":"M","c":14,"v":7.5,"i":0.027},{"s":"M","c":14,"v":8,"i":0.028},{"s":"M","c":14,"v":8.5,"i":0.03},{"s":"M","c":14,"v":9,"i":0.031},{"s":"M","c":14,"v":9.5,"i":0.032},{"s":"M","c":14,"v":10,"i":0.033},{"s":"M","c":14,"v":10.5,"i":0.034},{"s":"M","c":14,"v":11,"i":0.035},{"s":"M","c":14,"v":11.5,"i":0.036},{"s":"M","c":14,"v":12,"i":0.037},{"s":"M","c":14,"v":12.5,"i":0.038},{"s":"M","c":14,"v":13,"i":0.039},{"s":"M","c":14,"v":13.5,"i":0.04},{"s":"M","c":14,"v":14,"i":0.041},{"s":"M","c":14,"v":14.5,"i":0.042},{"s":"M","c":14,"v":15,"i":0.043},{"s":"M","c":14,"v":15.5,"i":0.045},{"s":"M","c":14,"v":16,"i":0.046},{"s":"M","c":14,"v":16.5,"i":0.047},{"s":"M","c":14,"v":17,"i":0.048},{"s":"M","c":14,"v":17.5,"i":0.049},{"s":"M","c":14,"v":18,"i":0.05},{"s":"M","c":14,"v":18.5,"i":0.051},{"s":"M","c":14,"v":19,"i":0.052},{"s":"M","c":14,"v":19.5,"i":0.054},{"s":"M","c":14,"v":20,"i":0.055},{"s":"M","c":14,"v":20.5,"i":0.056},{"s":"M","c":14,"v":21,"i":0.057},{"s":"M","c":14,"v":21.5,"i":0.059},{"s":"M","c":14,"v":22,"i":0.06}
]
},
"layer":[
{
"encoding":{
"x":{"field":"v","type":"quantitative","scale":{"domain":[0,22.76],"nice":false,"zero":false},
"axis":{"title":"Drain Voltage (V)","values":[0,2.5,5,7.5,10,12.5,15,17.5,20,22.5],"labelExpr":"datum.value % 5 === 0 ? format(datum.value,'d') : ''","grid":false,"domainColor":"black","domainWidth":3,"tickColor":"black","tickWidth":2.5,"tickSize":-8,"labelPadding":22,"labelFont":"DejaVu Sans","labelFontWeight":"bold","labelFontSize":19,"labelColor":"black","labelFlush":false,"labelOverlap":false,"titleFont":"Liberation Sans","titleFontWeight":"bold","titleFontSize":27,"titleColor":"black","titlePadding":14,"encode":{"ticks":{"update":{"y2":{"signal":"datum.value % 5 === 0 ? -9 : -5"}}}}}},
"y":{"field":"i","type":"quantitative","scale":{"domain":[0,1.4],"nice":false,"zero":false},
"axis":{"title":"Drain Current (A)","values":[0,0.1,0.2,0.3,0.4,0.5,0.6,0.7,0.8,0.9,1,1.1,1.2,1.3,1.4],"labelExpr":"round(datum.value*10) % 2 === 0 ? format(datum.value,'.1f') : ''","grid":false,"domainColor":"black","domainWidth":3,"tickColor":"black","tickWidth":2.5,"tickSize":-8,"labelPadding":19,"labelFont":"DejaVu Sans","labelFontWeight":"bold","labelFontSize":19,"labelColor":"black","labelFlush":false,"labelOverlap":false,"titleFont":"Liberation Sans","titleFontWeight":"bold","titleFontSize":27,"titleColor":"black","titlePadding":8,"encode":{"ticks":{"update":{"x2":{"signal":"round(datum.value*10) % 2 === 0 ? 9 : 5"}}}}}},
"color":{"field":"s","type":"nominal","scale":{"domain":["M","B","A"],"range":["#3d96e0","#ff0000","#000000"]},
"legend":{"orient":"none","legendX":297,"legendY":22,"title":null,"padding":0,"symbolSize":64,"rowPadding":3.5,"labelOffset":13,"labelFont":"Liberation Sans","labelFontSize":17,"labelColor":"#1f1f3d","labelExpr":"datum.label === 'M' ? 'Measured Data' : datum.label === 'B' ? 'Model (Before)' : 'Model (After)'",
"encode":{"symbols":{"update":{"shape":{"signal":"datum.value === 'M' ? 'circle' : 'stroke'"},"size":{"signal":"datum.value === 'M' ? 40 : 1600"},"strokeWidth":{"signal":"datum.value === 'B' ? 4 : datum.value === 'A' ? 1.5 : 2.2"},"fill":{"value":"transparent"},"stroke":{"scale":"color","field":"value"},"opacity":{"value":1}}}}}}
},
"layer":[
{"data":{"name":"meas"},"mark":{"type":"point","filled":false,"size":70,"strokeWidth":1.6,"opacity":1}},
{"data":{"name":"lines"},"transform":[{"filter":"datum.s === 'B'"}],"mark":{"type":"line","strokeWidth":3},"encoding":{"detail":{"field":"c"}}},
{"data":{"name":"lines"},"transform":[{"filter":"datum.s === 'A'"}],"mark":{"type":"line","strokeWidth":3},"encoding":{"detail":{"field":"c"}}}
]
},
{
"encoding":{
"x":{"field":"v","type":"quantitative","scale":{"domain":[0,2.2],"range":[276,569],"nice":false,"zero":false},
"axis":{"orient":"bottom","offset":-187,"title":"Drain Voltage (V)","values":[0,0.25,0.5,0.75,1,1.25,1.5,1.75,2],"labelExpr":"datum.value % 0.5 === 0 ? format(datum.value,'.1f') : ''","grid":false,"domainColor":"black","domainWidth":2.5,"tickColor":"black","tickWidth":2,"tickSize":-6,"labelPadding":13,"labelFont":"Liberation Sans","labelFontSize":18,"labelColor":"#1f1f3d","labelFlush":false,"labelOverlap":false,"titleFont":"Liberation Sans","titleFontWeight":"normal","titleFontSize":21,"titleColor":"#1f1f3d","titlePadding":6,"encode":{"ticks":{"update":{"y2":{"signal":"datum.value % 0.5 === 0 ? -7 : -4"}}}}}},
"y":{"field":"i","type":"quantitative","scale":{"domain":[0,1.2],"range":[276,6],"nice":false,"zero":false},
"axis":{"orient":"left","offset":-276,"title":"Drain Current (A)","values":[0,0.25,0.5,0.75,1,1.2],"labelExpr":"datum.value % 0.5 === 0 ? format(datum.value,'.1f') : ''","grid":true,"gridColor":"black","gridWidth":2.5,"gridOpacity":{"condition":{"test":"datum.value > 1.1","value":1},"value":0},"domainColor":"black","domainWidth":2.5,"tickColor":"black","tickWidth":2,"tickSize":-6,"labelPadding":10,"labelFont":"Liberation Sans","labelFontSize":18,"labelColor":"#1f1f3d","labelFlush":false,"labelOverlap":false,"titleFont":"Liberation Sans","titleFontWeight":"normal","titleFontSize":21,"titleColor":"#1f1f3d","titlePadding":6,"encode":{"ticks":{"update":{"x2":{"signal":"datum.value > 1.1 ? 0 : (datum.value % 0.5 === 0 ? 7 : 4)"}}}}}}
},
"layer":[
{"data":{"name":"lines"},"transform":[{"filter":"datum.s === 'B' && datum.v <= 3"}],"mark":{"type":"line","strokeWidth":1.3,"color":"#ff0000","clip":true},"encoding":{"detail":{"field":"c"}}},
{"data":{"name":"lines"},"transform":[{"filter":"datum.s === 'A' && datum.v <= 3"}],"mark":{"type":"line","strokeWidth":1.3,"color":"#000000","clip":true},"encoding":{"detail":{"field":"c"}}},
{"data":{"name":"meas"},"transform":[{"filter":"datum.v <= 2"}],"mark":{"type":"point","shape":"square","filled":true,"size":20,"color":"#3a8fdc","opacity":1,"clip":true}}
]
}
],
"resolve":{"scale":{"x":"independent","y":"independent"},"axis":{"x":"independent","y":"independent"}}
}
